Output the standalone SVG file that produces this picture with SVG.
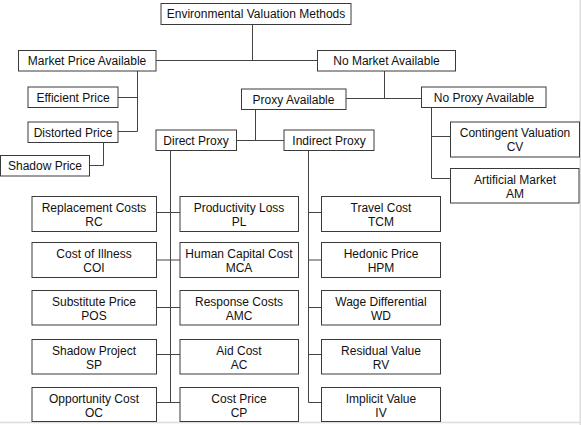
<svg xmlns="http://www.w3.org/2000/svg" width="581" height="425" viewBox="0 0 581 425">
<style>
rect{fill:#fff;stroke:#3a3a3a;stroke-width:1}
text{font-family:"Liberation Sans",Arial,sans-serif;font-size:12px;fill:#111;text-anchor:middle}
.c line,.c polyline{stroke:#444;stroke-width:1;fill:none}
.edge{stroke:#dcdcdc;stroke-width:1.5}
</style>
<rect x="0" y="0" width="581" height="425" style="fill:#fff;stroke:none"/>
<line class="edge" x1="0" y1="422.5" x2="581" y2="422.5"/>
<line class="edge" x1="580.2" y1="0" x2="580.2" y2="425"/>
<g class="c" id="connectors">
<line x1="252.5" y1="24" x2="252.5" y2="60.5"/>
<line x1="156" y1="60.5" x2="317.5" y2="60.5"/>
<line x1="137.5" y1="71" x2="137.5" y2="131.5"/>
<line x1="118" y1="97.5" x2="137.5" y2="97.5"/>
<line x1="118" y1="131.5" x2="137.5" y2="131.5"/>
<polyline points="103.5,142.5 103.5,165.5 89.5,165.5"/>
<line x1="384.5" y1="71" x2="384.5" y2="98.5"/>
<line x1="346" y1="98.5" x2="421.5" y2="98.5"/>
<line x1="255.5" y1="109.5" x2="255.5" y2="140.5"/>
<line x1="236.5" y1="140.5" x2="284" y2="140.5"/>
<line x1="431.5" y1="107.5" x2="431.5" y2="178.5"/>
<line x1="431.5" y1="136.5" x2="450.5" y2="136.5"/>
<line x1="431.5" y1="178.5" x2="450.5" y2="178.5"/>
<line x1="170.5" y1="150.5" x2="170.5" y2="402.5"/>
<line x1="156.5" y1="212.5" x2="180" y2="212.5"/>
<line x1="156.5" y1="260" x2="180" y2="260"/>
<line x1="156.5" y1="307.5" x2="180" y2="307.5"/>
<line x1="156.5" y1="354.5" x2="180" y2="354.5"/>
<line x1="156.5" y1="402.5" x2="180" y2="402.5"/>
<line x1="308.5" y1="150.5" x2="308.5" y2="402.5"/>
<line x1="308.5" y1="212.5" x2="321.5" y2="212.5"/>
<line x1="308.5" y1="260" x2="321.5" y2="260"/>
<line x1="308.5" y1="307.5" x2="321.5" y2="307.5"/>
<line x1="308.5" y1="354.5" x2="321.5" y2="354.5"/>
<line x1="308.5" y1="402.5" x2="321.5" y2="402.5"/>
</g>
<g id="env"><rect x="161" y="3.5" width="190" height="21"/><text x="256" y="18.3">Environmental Valuation Methods</text></g>
<g id="mpa"><rect x="18.5" y="50.5" width="137.5" height="20.5"/><text x="87" y="65.3">Market Price Available</text></g>
<g id="nma"><rect x="317.5" y="50.5" width="138" height="20.5"/><text x="386.5" y="65.3">No Market Available</text></g>
<g id="eff"><rect x="28" y="87" width="90" height="20.5"/><text x="73" y="101.5">Efficient Price</text></g>
<g id="dis"><rect x="28" y="122" width="90" height="20.5"/><text x="73" y="136.5">Distorted Price</text></g>
<g id="shp"><rect x="0.5" y="155.5" width="89" height="20.5"/><text x="45" y="170">Shadow Price</text></g>
<g id="pa"><rect x="241.5" y="89" width="104.5" height="20.5"/><text x="293.5" y="103.5">Proxy Available</text></g>
<g id="npa"><rect x="421.5" y="87" width="124.5" height="20.5"/><text x="484" y="101.5">No Proxy Available</text></g>
<g id="dp"><rect x="156" y="130" width="80.5" height="20.5"/><text x="196" y="144.5">Direct Proxy</text></g>
<g id="ip"><rect x="284" y="130" width="90" height="20.5"/><text x="329" y="144.5">Indirect Proxy</text></g>
<g id="cv"><rect x="450.5" y="122" width="129" height="35"/><text x="515" y="137.3">Contingent Valuation</text><text x="515" y="151">CV</text></g>
<g id="am"><rect x="450.5" y="168.5" width="128.5" height="34.5"/><text x="515" y="183.5">Artificial Market</text><text x="515" y="197.5">AM</text></g>
<g id="rc"><rect x="32" y="196.5" width="124.5" height="35"/><text x="94" y="212">Replacement Costs</text><text x="94" y="226.3">RC</text></g>
<g id="coi"><rect x="32" y="242.5" width="124.5" height="35"/><text x="94" y="258">Cost of Illness</text><text x="94" y="272.3">COI</text></g>
<g id="pos"><rect x="32" y="290.5" width="124.5" height="34.5"/><text x="94" y="306">Substitute Price</text><text x="94" y="320.3">POS</text></g>
<g id="sp"><rect x="32" y="339.5" width="124.5" height="34.5"/><text x="94" y="355">Shadow Project</text><text x="94" y="369.3">SP</text></g>
<g id="oc"><rect x="32" y="387.5" width="124.5" height="34"/><text x="94" y="403">Opportunity Cost</text><text x="94" y="417.3">OC</text></g>
<g id="pl"><rect x="180" y="196.5" width="118.5" height="35"/><text x="239" y="212">Productivity Loss</text><text x="239" y="226.3">PL</text></g>
<g id="mca"><rect x="180" y="242.5" width="118.5" height="35"/><text x="239" y="258">Human Capital Cost</text><text x="239" y="272.3">MCA</text></g>
<g id="amc"><rect x="180" y="290.5" width="118.5" height="34.5"/><text x="239" y="306">Response Costs</text><text x="239" y="320.3">AMC</text></g>
<g id="ac"><rect x="180" y="339.5" width="118.5" height="34.5"/><text x="239" y="355">Aid Cost</text><text x="239" y="369.3">AC</text></g>
<g id="cp"><rect x="180" y="387.5" width="118.5" height="34"/><text x="239" y="403">Cost Price</text><text x="239" y="417.3">CP</text></g>
<g id="tcm"><rect x="321.5" y="196.5" width="119" height="35"/><text x="381" y="212">Travel Cost</text><text x="381" y="226.3">TCM</text></g>
<g id="hpm"><rect x="321.5" y="242.5" width="119" height="35"/><text x="381" y="258">Hedonic Price</text><text x="381" y="272.3">HPM</text></g>
<g id="wd"><rect x="321.5" y="290.5" width="119" height="34.5"/><text x="381" y="306">Wage Differential</text><text x="381" y="320.3">WD</text></g>
<g id="rv"><rect x="321.5" y="339.5" width="119" height="34.5"/><text x="381" y="355">Residual Value</text><text x="381" y="369.3">RV</text></g>
<g id="iv"><rect x="321.5" y="387.5" width="119" height="34"/><text x="381" y="403">Implicit Value</text><text x="381" y="417.3">IV</text></g>
</svg>
